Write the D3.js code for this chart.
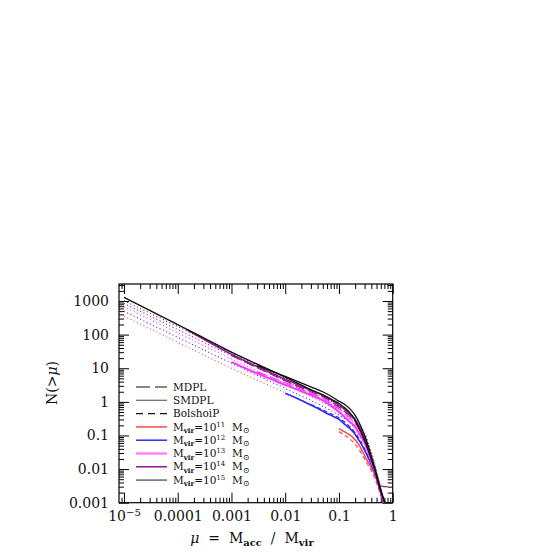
<!DOCTYPE html>
<html><head><meta charset="utf-8">
<script src="https://cdn.jsdelivr.net/npm/d3@7"></script>
<style>
body{margin:0;background:#fff}
svg{display:block}
text{font-family:"DejaVu Serif",serif;fill:#111}
</style>
</head><body><svg id="c" width="554" height="554"></svg>
<script>
// ---- tick values / labels ----
const xTickValues=[1e-5,1e-4,1e-3,1e-2,1e-1,1];
const xTickLabels=["10^-5","0.0001","0.001","0.01","0.1","1"];
const yTickValues=[0.001,0.01,0.1,1,10,100,1000];
const yTickLabels=["0.001","0.01","0.1","1","10","100","1000"];

// ---- fitting functions (dotted) ----
const muFit=[1e-5,1e-4,1e-3,1e-2,0.03,0.1,0.15,0.2,0.25,0.3,0.35,0.4,0.46,0.52,0.6,0.7,0.8];
const fitBlack=[1020,174,29,5.0,2.1,0.76,0.5,0.33,0.2,0.12,0.062,0.032,0.015,0.007,0.0027,0.0009,0.0004];
const fitPurple=[850,141,23.4,4.2,1.78,0.63,0.42,0.28,0.17,0.105,0.055,0.029,0.014,0.0065,0.0025,0.0009,0.0004];
const fitMagenta=[676,112,19,3.4,1.45,0.52,0.34,0.22,0.14,0.089,0.048,0.026,0.013,0.006,0.0023,0.0008,0.0003];
const fitBlue=[500,83,14.1,2.5,1.1,0.4,0.26,0.17,0.11,0.071,0.04,0.023,0.012,0.0057,0.0022,0.0008,0.0003];
const fitRed=[355,59,10,1.86,0.83,0.3,0.2,0.13,0.086,0.056,0.034,0.02,0.011,0.0054,0.0021,0.0008,0.0003];

// ---- simulation measurements ----
const blackAMu=[1e-5,1e-4,1e-3,0.01,0.03,0.05,0.075,0.105,0.13,0.16,0.2,0.245,0.29,0.35,0.4,0.46,0.52,0.6,0.66,0.72,0.78];
const blackAN=[1290,200,30,5.4,2.3,1.6,1.15,0.85,0.65,0.47,0.28,0.145,0.08,0.038,0.02,0.01,0.005,0.0022,0.0014,0.001,0.0007];
const blackBMu=[0.003,0.01,0.03,0.05,0.075,0.1,0.13,0.16,0.19,0.23,0.27,0.3,0.35,0.4,0.46,0.52,0.6,0.66,0.72];
const blackBN=[12,5.7,2.8,2.0,1.4,1.05,0.82,0.62,0.45,0.27,0.15,0.1,0.048,0.024,0.011,0.0055,0.0024,0.0014,0.0009];
const purpleAMu=[1.5e-4,1e-3,0.01,0.03,0.05,0.1,0.15,0.2,0.25,0.3,0.35,0.4,0.46,0.52,0.6,0.68,0.76];
const purpleAN=[140,26,4.7,2.2,1.6,0.8,0.48,0.3,0.16,0.085,0.042,0.021,0.0105,0.0052,0.0023,0.0013,0.0008];
const purpleBMu=[1e-3,0.01,0.03,0.05,0.1,0.15,0.2,0.25,0.3,0.35,0.4,0.46,0.52,0.6,0.7,0.8];
const purpleBN=[24,4.3,2.0,1.45,0.7,0.42,0.26,0.14,0.075,0.037,0.019,0.0095,0.005,0.0032,0.003,0.003];
const magentaAMu=[1e-3,3e-3,0.01,0.03,0.05,0.075,0.1,0.15,0.2,0.25,0.3,0.35,0.4,0.46,0.52,0.6,0.66,0.74];
const magentaAN=[15.5,7,3.2,1.6,1.1,0.72,0.5,0.28,0.18,0.1,0.06,0.032,0.017,0.009,0.0048,0.0022,0.0013,0.0008];
const magentaBMu=[0.003,0.01,0.03,0.05,0.075,0.1,0.15,0.2,0.25,0.3,0.35,0.4,0.46,0.52,0.6,0.7,0.78];
const magentaBN=[7.8,3.7,1.8,1.3,0.85,0.62,0.36,0.23,0.13,0.07,0.036,0.019,0.0095,0.005,0.0023,0.0011,0.0007];
const blueAMu=[0.01,0.02,0.03,0.045,0.06,0.08,0.1,0.13,0.16,0.19,0.22,0.25,0.28,0.35,0.4,0.46,0.52,0.6,0.66,0.72];
const blueAN=[1.8,1.1,0.8,0.58,0.45,0.36,0.3,0.21,0.16,0.12,0.085,0.062,0.045,0.022,0.014,0.008,0.0045,0.002,0.0012,0.0008];
const blueBMu=[0.03,0.06,0.1,0.15,0.2,0.25,0.3,0.35,0.4,0.46,0.52,0.6,0.7];
const blueBN=[0.85,0.5,0.33,0.2,0.12,0.07,0.04,0.023,0.014,0.008,0.0042,0.0019,0.0009];
const redAMu=[0.1,0.125,0.15,0.2,0.25,0.3,0.35,0.4,0.46,0.52,0.6,0.66,0.72];
const redAN=[0.16,0.13,0.11,0.075,0.045,0.025,0.016,0.011,0.007,0.004,0.0019,0.0012,0.0008];
const redBMu=[0.1,0.15,0.2,0.25,0.3,0.35,0.4,0.46,0.52,0.6,0.7];
const redBN=[0.13,0.085,0.055,0.033,0.02,0.013,0.009,0.0055,0.0033,0.0016,0.0008];

// ---- legend ----
const legendNames=["MDPL","SMDPL","BolshoiP","11","12","13","14","15"];

const colRed="#ff4a4a", colBlue="#2a2aff", colMag="#ff33ff", colMagLeg="#ff80ff", colPur="#8e1a8e", colGray="#666";

const svg=d3.select("#c");
const L=119, R=392.7, T=284, B=502.7;
const x=d3.scaleLog().domain([Math.pow(10,-5.093),1]).range([L,R]);
const y=d3.scaleLog().domain([0.001,Math.pow(10,3.506)]).range([B,T]);

svg.append("defs").append("clipPath").attr("id","clip")
  .append("rect").attr("x",L).attr("y",T).attr("width",R-L).attr("height",B-T);

// minor ticks
const xMinor=[], yMinor=[];
for(let e=-6;e<=0;e++)for(let k=2;k<=9;k++){const v=k*Math.pow(10,e);if(v>x.domain()[0]&&v<1)xMinor.push(v);}
for(let e=-3;e<=3;e++)for(let k=2;k<=9;k++){const v=k*Math.pow(10,e);if(v<y.domain()[1])yMinor.push(v);}

function styleAxis(g){g.select(".domain").remove();g.selectAll("line").attr("stroke","#000").attr("stroke-width",1);}
svg.append("g").attr("transform",`translate(0,${B})`).call(d3.axisBottom(x).tickValues(xTickValues).tickSize(-10).tickPadding(8).tickFormat((d,i)=>xTickLabels[i])).call(styleAxis).attr("font-size",14).attr("font-family","DejaVu Serif");
svg.append("g").attr("transform",`translate(0,${B})`).call(d3.axisBottom(x).tickValues(xMinor).tickSize(-5).tickFormat("")).call(styleAxis);
svg.append("g").attr("transform",`translate(0,${T})`).call(d3.axisTop(x).tickValues(xTickValues).tickSize(-10).tickFormat("")).call(styleAxis);
svg.append("g").attr("transform",`translate(0,${T})`).call(d3.axisTop(x).tickValues(xMinor).tickSize(-5).tickFormat("")).call(styleAxis);
svg.append("g").attr("transform",`translate(${L},0)`).call(d3.axisLeft(y).tickValues(yTickValues).tickSize(-10).tickPadding(10).tickFormat((d,i)=>yTickLabels[i])).call(styleAxis).attr("font-size",14).attr("font-family","DejaVu Serif");
svg.append("g").attr("transform",`translate(${L},0)`).call(d3.axisLeft(y).tickValues(yMinor).tickSize(-5).tickFormat("")).call(styleAxis);
svg.append("g").attr("transform",`translate(${R},0)`).call(d3.axisRight(y).tickValues(yTickValues).tickSize(-10).tickFormat("")).call(styleAxis);
svg.append("g").attr("transform",`translate(${R},0)`).call(d3.axisRight(y).tickValues(yMinor).tickSize(-5).tickFormat("")).call(styleAxis);
svg.selectAll(".tick text").attr("fill","#111");

// superscript tick label
svg.selectAll(".tick text").each(function(){
  const t=d3.select(this), s=t.text();
  if(s.includes("^")){const [b,p]=s.split("^");t.text(null);t.append("tspan").text(b);t.append("tspan").attr("dy","-0.45em").attr("font-size",10).text(p.replace("-","\u2212"));}
});

svg.append("rect").attr("x",L).attr("y",T).attr("width",R-L).attr("height",B-T).attr("fill","none").attr("stroke","#000").attr("stroke-width",1.2);

const line=d3.line().x(d=>x(d[0])).y(d=>y(d[1])).curve(d3.curveMonotoneX);
const plot=svg.append("g").attr("clip-path","url(#clip)");
function draw(mu,n,color,width,dash){
  plot.append("path").datum(mu.map((m,i)=>[m,n[i]])).attr("d",line)
    .attr("fill","none").attr("stroke",color).attr("stroke-width",width)
    .attr("stroke-dasharray",dash||null).attr("stroke-linejoin","round");
}
const dot="1,2.6";
draw(muFit,fitRed,colRed,1.1,dot);
draw(muFit,fitBlue,colBlue,1.1,dot);
draw(muFit,fitMagenta,colMag,1.1,dot);
draw(muFit,fitPurple,colPur,1.1,dot);
draw(muFit,fitBlack,"#333",1.1,dot);

draw(redBMu,redBN,colRed,1.2,"4,3");
draw(redAMu,redAN,colRed,1.5);
draw(blueBMu,blueBN,colBlue,1.2,"4,3");
draw(blueAMu,blueAN,colBlue,1.6);
draw(magentaAMu,magentaAN,colMag,2);
draw(magentaBMu,magentaBN,colMag,1.3,"10,4");
draw(purpleBMu,purpleBN,colPur,1.3,"10,4");
draw(purpleAMu,purpleAN,colPur,1.6);
draw(blackBMu,blackBN,"#111",1.3);
draw(blackAMu,blackAN,"#111",1.4);

// legend
const legStyles=[
 {c:"#111",w:1.2,d:"14,5"},{c:colGray,w:1.2,d:null},{c:"#111",w:1.2,d:"7,5"},
 {c:colRed,w:1.5},{c:colBlue,w:1.5},{c:colMagLeg,w:2.5},{c:colPur,w:1.5},{c:colGray,w:1.5}];
const lg=svg.append("g");
legendNames.forEach((nm,i)=>{
  const yy=387+13.3*i, st=legStyles[i];
  lg.append("line").attr("x1",136).attr("x2",167).attr("y1",yy).attr("y2",yy)
    .attr("stroke",st.c).attr("stroke-width",st.w).attr("stroke-dasharray",st.d||null);
  const t=lg.append("text").attr("x",173).attr("y",yy+3.6).attr("font-size",10.5);
  if(i<3){t.text(nm);}
  else{
    t.append("tspan").text("M");
    t.append("tspan").attr("font-size",7).attr("font-weight","bold").attr("dy",2.5).text("vir");
    t.append("tspan").attr("dy",-2.5).text("=10");
    t.append("tspan").attr("font-size",7).attr("dy",-4).text(nm);
    t.append("tspan").attr("dy",4).text("\u00a0\u00a0M");
    t.append("tspan").attr("font-size",8).attr("dy",2.5).text("\u2299");
  }
});

// axis titles
const xt=svg.append("text").attr("x",252).attr("y",543).attr("text-anchor","middle").attr("font-size",14).style("white-space","pre");
xt.append("tspan").attr("font-style","italic").text("\u03bc");
xt.append("tspan").text("  =  M");
xt.append("tspan").attr("font-size",10).attr("font-weight","bold").attr("dy",3).text("acc");
xt.append("tspan").attr("dy",-3).text("  /  M");
xt.append("tspan").attr("font-size",10).attr("font-weight","bold").attr("dy",3).text("vir");

const yt=svg.append("text").attr("transform","translate(57,383) rotate(-90)").attr("text-anchor","middle").attr("font-size",14);
yt.append("tspan").text("N(>");
yt.append("tspan").attr("font-style","italic").text("\u03bc");
yt.append("tspan").text(")");
</script>
</body></html>
